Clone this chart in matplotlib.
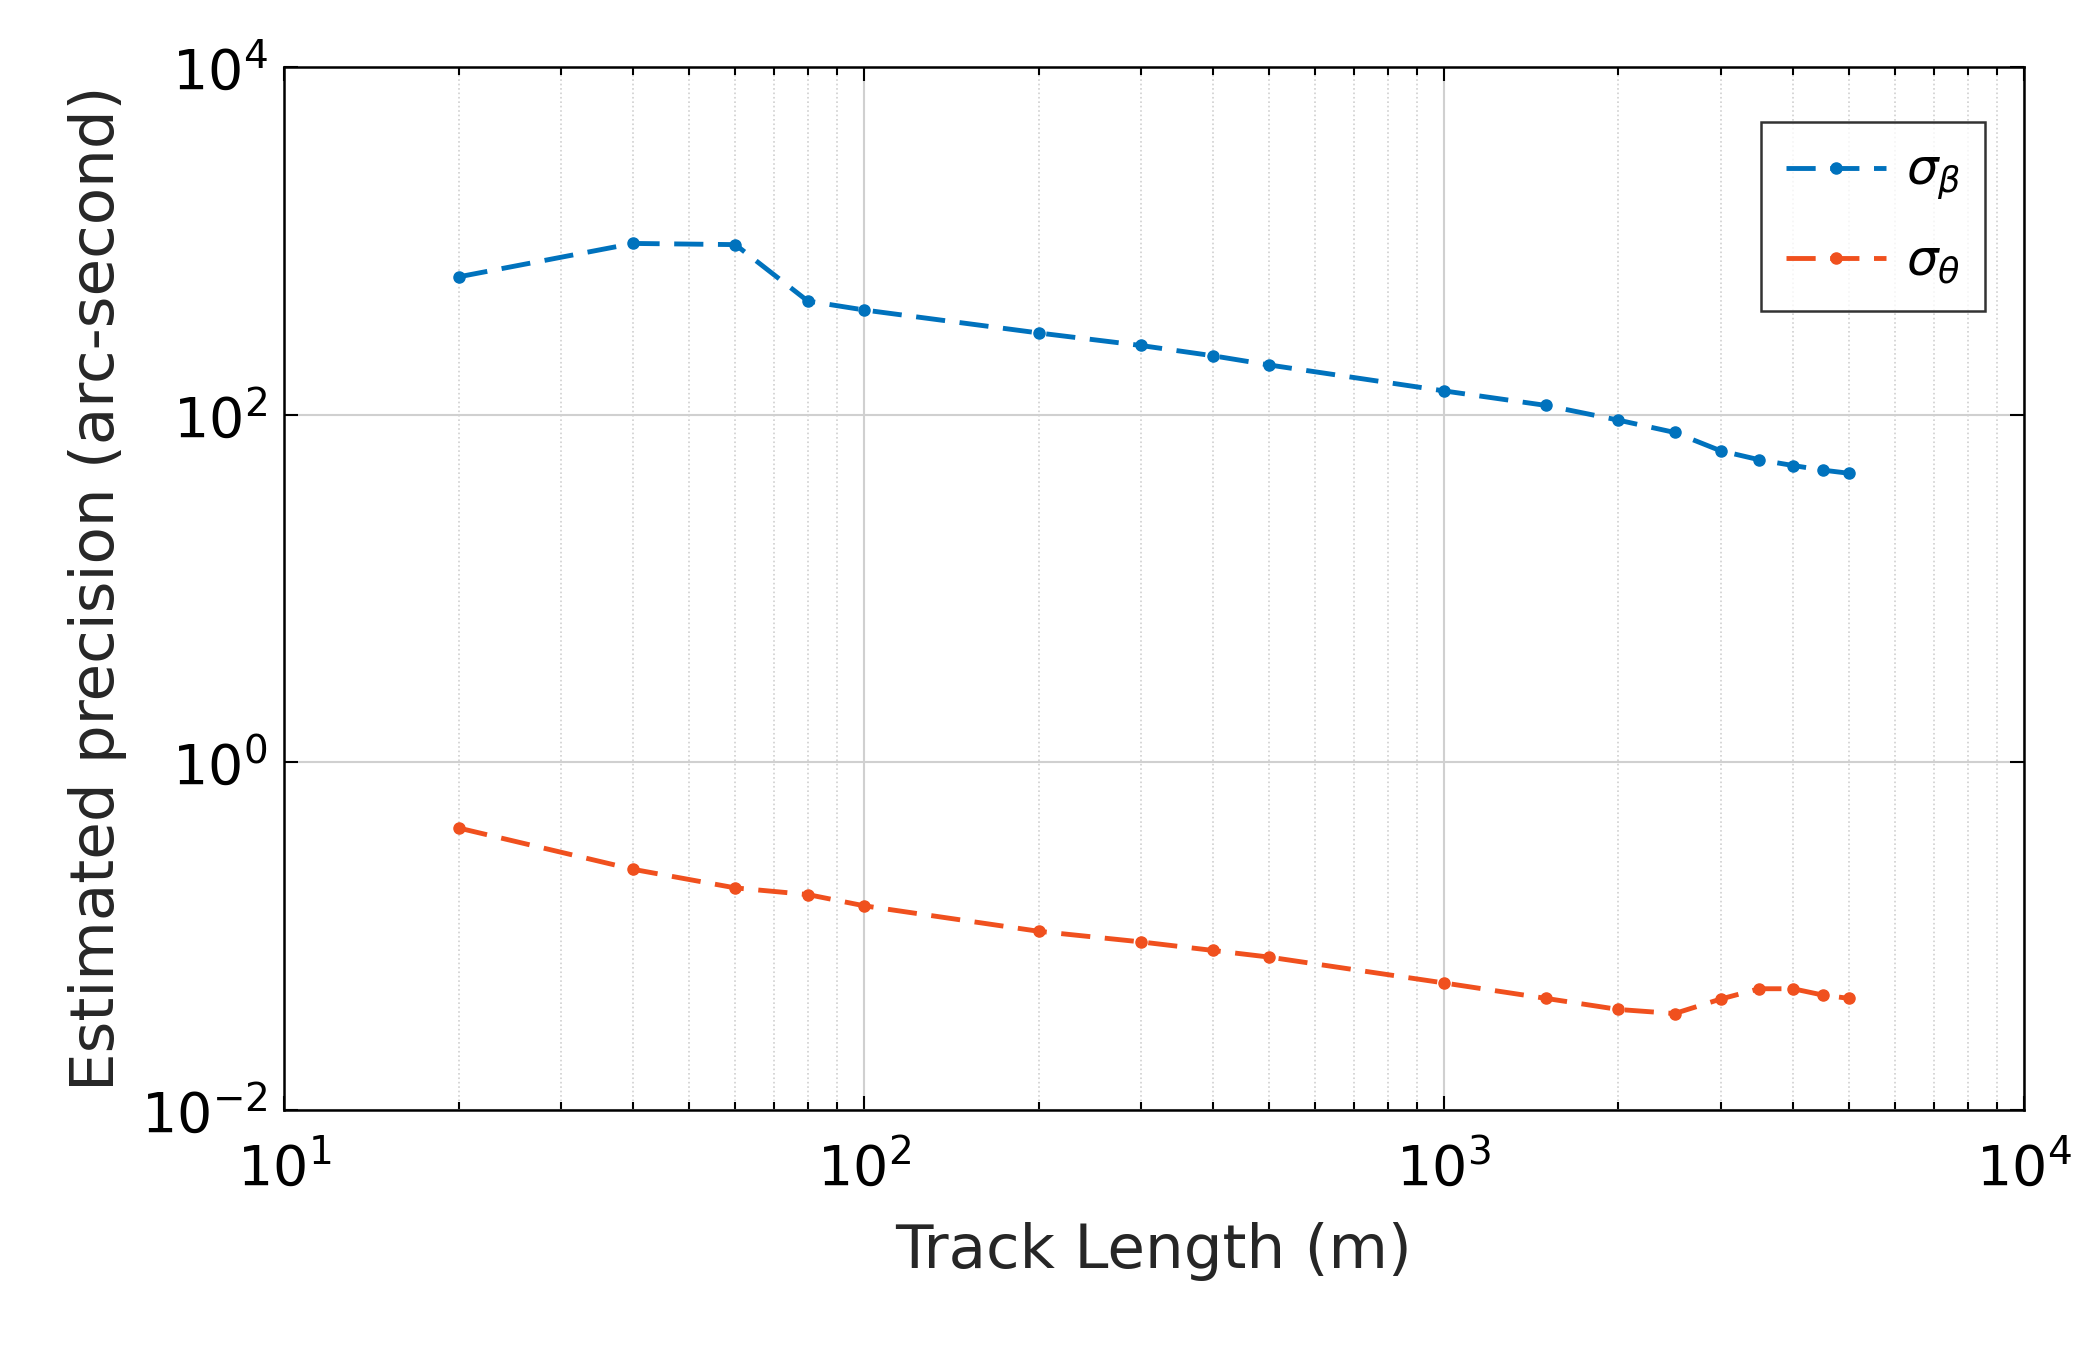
import matplotlib
matplotlib.use("Agg")
import matplotlib.pyplot as plt

track_length = [20, 40, 60, 80, 100, 200, 300, 400, 500, 1000, 1500, 2000, 2500, 3000, 3500, 4000, 4500, 5000]
sigma_beta = [620, 965, 950, 450, 400, 295, 250, 218, 193, 137, 113, 93, 79, 62, 55, 51, 48, 46]
sigma_theta = [0.42, 0.243, 0.19, 0.174, 0.15, 0.107, 0.093, 0.083, 0.076, 0.054, 0.044, 0.038, 0.036,
               0.0436, 0.050, 0.050, 0.046, 0.044]

plt.rcParams["font.family"] = "DejaVu Sans"
fig = plt.figure(figsize=(20.81, 13.64), dpi=100)
ax = fig.add_axes([0.1365, 0.186, 0.836, 0.765])
ax.plot(track_length, sigma_beta, '--', color='#0072BD', lw=3.5, marker='o', ms=8, dashes=(6, 3),
        label=r'$\sigma_\beta$')
ax.plot(track_length, sigma_theta, '--', color='#F0501E', lw=3.5, marker='o', ms=8, dashes=(6, 3),
        label=r'$\sigma_\theta$')
ax.set_xscale('log'); ax.set_yscale('log')
ax.set_xlim(10, 1e4); ax.set_ylim(1e-2, 1e4)
ax.set_yticks([1e-2, 1, 1e2, 1e4])
ax.set_yticklabels([r'$10^{-2}$', r'$10^{0}$', r'$10^{2}$', r'$10^{4}$'])
ax.set_xticks([10, 100, 1000, 10000])
ax.set_xticklabels([r'$10^{1}$', r'$10^{2}$', r'$10^{3}$', r'$10^{4}$'])
ax.yaxis.set_minor_locator(matplotlib.ticker.NullLocator())
ax.grid(True, which='major', color='#d0d0d0', lw=1.5)
ax.grid(True, which='minor', axis='x', color='#d0d0d0', lw=1.2, ls=':')
ax.tick_params(which='both', direction='in', top=True, right=True, labelsize=40, length=10, width=1.5)
ax.tick_params(axis='x', which='major', pad=22)
ax.tick_params(axis='y', which='major', pad=12)
ax.tick_params(which='minor', length=6)
for s in ax.spines.values():
    s.set_linewidth(1.8)
ax.set_xlabel('Track Length (m)', fontsize=44, color='#262626', labelpad=18)
ax.set_ylabel('Estimated precision (arc-second)', fontsize=44, color='#262626', labelpad=10)
leg = ax.legend(loc='upper right', fontsize=36, fancybox=False, edgecolor='black',
                handlelength=2.0, handletextpad=0.4, borderpad=0.5, labelspacing=0.7,
                borderaxespad=0, bbox_to_anchor=(0.978, 0.947))
leg.get_frame().set_linewidth(1.8)
fig.savefig('out.png', dpi=100, facecolor='white')
